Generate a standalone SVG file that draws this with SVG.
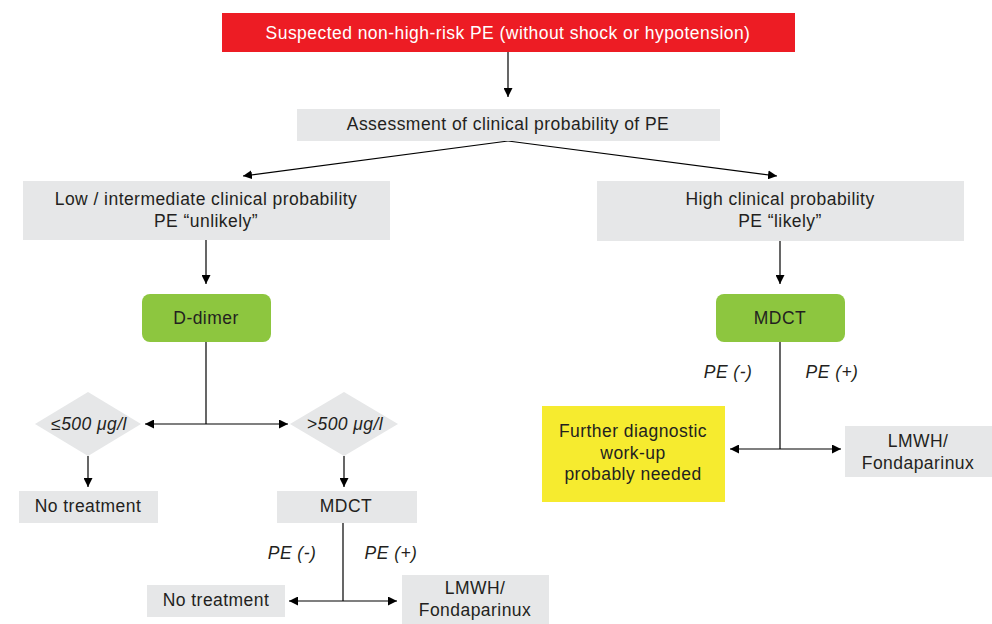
<svg xmlns="http://www.w3.org/2000/svg" width="992" height="624" viewBox="0 0 992 624">
<defs>
<marker id="ah" viewBox="0 0 10 10" refX="10" refY="5" markerWidth="9" markerHeight="9" markerUnits="userSpaceOnUse" orient="auto-start-reverse">
<path d="M0,0 L10,5 L0,10 z" fill="#000"/>
</marker>
</defs>
<style>
text{font-family:"Liberation Sans",Arial,sans-serif;font-size:17.5px;letter-spacing:0.45px;fill:#231f20;text-anchor:middle;dominant-baseline:central}
.grey{fill:#e6e7e8}
.green{fill:#8dc63f}
.it{font-style:italic}
.w{fill:#ffffff}
.c{stroke:#000;stroke-width:1.2;fill:none}
</style>
<rect width="992" height="624" fill="#fff"/>
<g id="connectors">
<path class="c" d="M508,52 V97" marker-end="url(#ah)"/>
<path class="c" d="M508,141 L243,176" marker-end="url(#ah)"/>
<path class="c" d="M508,141 L777,176" marker-end="url(#ah)"/>
<path class="c" d="M206,240 V284" marker-end="url(#ah)"/>
<path class="c" d="M780,241 V284" marker-end="url(#ah)"/>
<path class="c" d="M206,342 V424"/>
<path class="c" d="M145,424 H288" marker-start="url(#ah)" marker-end="url(#ah)"/>
<path class="c" d="M88,456 V487" marker-end="url(#ah)"/>
<path class="c" d="M344,456 V487" marker-end="url(#ah)"/>
<path class="c" d="M343,523 V601"/>
<path class="c" d="M289,601 H397" marker-start="url(#ah)" marker-end="url(#ah)"/>
<path class="c" d="M780,342 V449"/>
<path class="c" d="M730,449 H841" marker-start="url(#ah)" marker-end="url(#ah)"/>
<text class="it" x="292" y="553">PE (-)</text>
<text class="it" x="391" y="553">PE (+)</text>
<text class="it" x="728" y="372">PE (-)</text>
<text class="it" x="832" y="372">PE (+)</text>
</g>
<g id="suspected">
<rect x="222" y="13" width="573" height="39" fill="#ed1c24"/>
<text class="w" x="508" y="33">Suspected non-high-risk PE (without shock or hypotension)</text>
</g>
<g id="assessment">
<rect class="grey" x="297" y="109" width="423" height="32"/>
<text x="508" y="124">Assessment of clinical probability of PE</text>
</g>
<g id="low">
<rect class="grey" x="23" y="181" width="367" height="59"/>
<text x="206" y="199">Low / intermediate clinical probability</text>
<text x="206" y="221">PE “unlikely”</text>
</g>
<g id="high">
<rect class="grey" x="597" y="181" width="367" height="60"/>
<text x="780" y="199">High clinical probability</text>
<text x="780" y="221">PE “likely”</text>
</g>
<g id="ddimer">
<rect class="green" x="142" y="294" width="129" height="48" rx="8"/>
<text x="206" y="318">D-dimer</text>
</g>
<g id="mdct-high">
<rect class="green" x="716" y="294" width="129" height="48" rx="8"/>
<text x="780" y="318">MDCT</text>
</g>
<g id="le500">
<path class="grey" d="M88,392 L141,424 L88,456 L35,424 z"/>
<text class="it" x="89" y="424">≤500 μg/l</text>
</g>
<g id="gt500">
<path class="grey" d="M344,392 L398,424 L344,456 L290,424 z"/>
<text class="it" x="345" y="424">&gt;500 μg/l</text>
</g>
<g id="notreat1">
<rect class="grey" x="19" y="491" width="139" height="32"/>
<text x="88" y="506">No treatment</text>
</g>
<g id="mdct-low">
<rect class="grey" x="277" y="491" width="140" height="32"/>
<text x="346" y="506">MDCT</text>
</g>
<g id="notreat2">
<rect class="grey" x="147" y="585" width="138" height="32"/>
<text x="216" y="600">No treatment</text>
</g>
<g id="lmwh-low">
<rect class="grey" x="402" y="575" width="147" height="49"/>
<text x="475" y="588">LMWH/</text>
<text x="475" y="610">Fondaparinux</text>
</g>
<g id="further">
<rect x="542" y="406" width="183" height="96" fill="#f6eb2f"/>
<text x="633" y="431">Further diagnostic</text>
<text x="633" y="453">work-up</text>
<text x="633" y="474">probably needed</text>
</g>
<g id="lmwh-high">
<rect class="grey" x="845" y="426" width="147" height="51"/>
<text x="918" y="441">LMWH/</text>
<text x="918" y="463">Fondaparinux</text>
</g>
</svg>
